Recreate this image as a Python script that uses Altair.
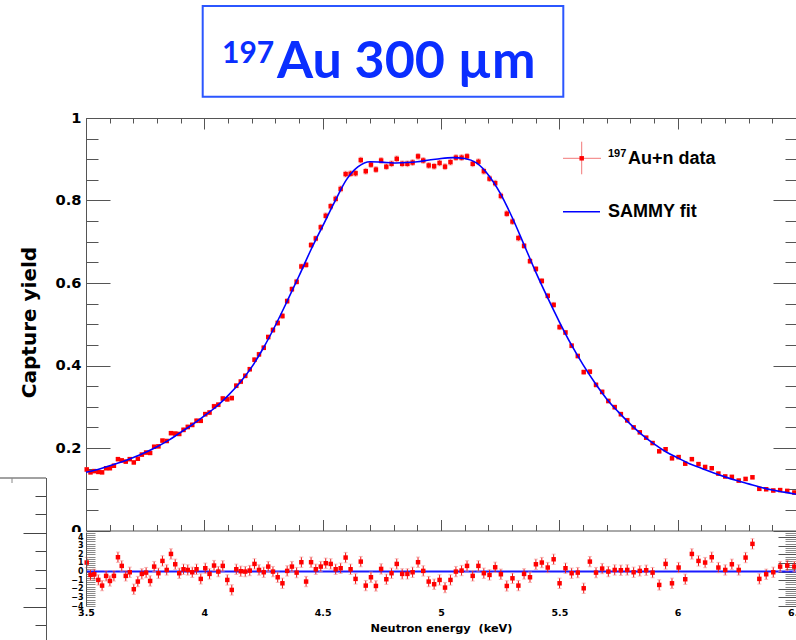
import altair as alt
import pandas as pd

# ---------------- data ----------------
energy = [3.503, 3.519, 3.535, 3.552, 3.568, 3.585, 3.601, 3.618, 3.635, 3.651,
          3.668, 3.685, 3.702, 3.719, 3.736, 3.754, 3.771, 3.788, 3.806, 3.823,
          3.841, 3.859, 3.877, 3.894, 3.912, 3.930, 3.949, 3.967, 3.985, 4.004,
          4.022, 4.041, 4.059, 4.078, 4.097, 4.116, 4.135, 4.154, 4.173, 4.192,
          4.212, 4.231, 4.251, 4.270, 4.290, 4.310, 4.330, 4.350, 4.370, 4.390,
          4.410, 4.430, 4.451, 4.471, 4.492, 4.513, 4.534, 4.555, 4.576, 4.597,
          4.618, 4.639, 4.661, 4.682, 4.704, 4.725, 4.747, 4.769, 4.791, 4.813,
          4.836, 4.858, 4.880, 4.903, 4.925, 4.948, 4.971, 4.994, 5.017, 5.040,
          5.063, 5.087, 5.110, 5.134, 5.158, 5.181, 5.205, 5.229, 5.253, 5.278,
          5.302, 5.327, 5.351, 5.376, 5.401, 5.426, 5.451, 5.476, 5.501, 5.526,
          5.552, 5.578, 5.603, 5.629, 5.655, 5.681, 5.707, 5.734, 5.760, 5.787,
          5.814, 5.840, 5.867, 5.894, 5.922, 5.949, 5.976, 6.004, 6.032, 6.060,
          6.088, 6.116, 6.144, 6.172, 6.201, 6.229, 6.258, 6.287, 6.316, 6.345,
          6.374, 6.404, 6.433, 6.463, 6.493]

capture_yield = [0.148, 0.141, 0.144, 0.142, 0.141, 0.151, 0.151, 0.157, 0.173, 0.170,
                 0.167, 0.173, 0.165, 0.174, 0.184, 0.189, 0.188, 0.203, 0.204, 0.218,
                 0.217, 0.236, 0.235, 0.234, 0.244, 0.251, 0.256, 0.266, 0.266, 0.282,
                 0.286, 0.301, 0.305, 0.320, 0.318, 0.321, 0.351, 0.361, 0.375, 0.391,
                 0.414, 0.427, 0.443, 0.469, 0.486, 0.503, 0.520, 0.556, 0.585, 0.603,
                 0.640, 0.644, 0.692, 0.708, 0.735, 0.763, 0.786, 0.804, 0.828, 0.864,
                 0.865, 0.866, 0.898, 0.871, 0.887, 0.875, 0.897, 0.882, 0.889, 0.901,
                 0.889, 0.889, 0.892, 0.907, 0.897, 0.885, 0.883, 0.891, 0.882, 0.893,
                 0.904, 0.904, 0.907, 0.889, 0.894, 0.871, 0.853, 0.842, 0.811, 0.768,
                 0.749, 0.709, 0.690, 0.653, 0.634, 0.605, 0.569, 0.547, 0.493, 0.480,
                 0.448, 0.423, 0.384, 0.385, 0.353, 0.336, 0.314, 0.299, 0.282, 0.267,
                 0.250, 0.238, 0.225, 0.212, 0.192, 0.197, 0.175, 0.178, 0.162, 0.173,
                 0.161, 0.154, 0.151, 0.138, 0.131, 0.130, 0.121, 0.125, 0.129, 0.101,
                 0.100, 0.097, 0.098, 0.096, 0.092]

yield_err = [
    0.004, 0.004, 0.004, 0.004, 0.004, 0.004, 0.004, 0.004, 0.004, 0.004,
    0.004, 0.004, 0.004, 0.004, 0.004, 0.004, 0.004, 0.004, 0.004, 0.004,
    0.004, 0.004, 0.004, 0.004, 0.005, 0.005, 0.005, 0.005, 0.005, 0.005,
    0.005, 0.005, 0.005, 0.005, 0.005, 0.005, 0.005, 0.005, 0.005, 0.005,
    0.005, 0.005, 0.005, 0.005, 0.006, 0.006, 0.006, 0.006, 0.006, 0.006,
    0.006, 0.006, 0.006, 0.006, 0.007, 0.007, 0.007, 0.007, 0.007, 0.007,
    0.007, 0.007, 0.007, 0.007, 0.007, 0.007, 0.007, 0.007, 0.007, 0.007,
    0.007, 0.007, 0.007, 0.007, 0.007, 0.007, 0.007, 0.007, 0.007, 0.007,
    0.007, 0.007, 0.007, 0.007, 0.007, 0.007, 0.007, 0.007, 0.007, 0.007,
    0.007, 0.007, 0.006, 0.006, 0.006, 0.006, 0.006, 0.006, 0.006, 0.005,
    0.005, 0.005, 0.005, 0.005, 0.005, 0.005, 0.005, 0.005, 0.005, 0.005,
    0.004, 0.004, 0.004, 0.004, 0.004, 0.004, 0.004, 0.004, 0.004, 0.004,
    0.004, 0.004, 0.004, 0.004, 0.004, 0.004, 0.004, 0.004, 0.004, 0.004,
    0.004, 0.004, 0.004, 0.004, 0.004]

residual = [1.05, -0.39, -0.31, -0.97, -1.63, -0.50, -1.09, -0.50, 1.67, 0.66,
            -0.50, -0.08, -2.05, -1.16, -0.27, -0.12, -1.09, 0.58, -0.19, 1.24,
            0.19, 2.05, 0.85, -0.19, 0.27, 0.19, -0.08, 0.27, -0.85, 0.39,
            -0.27, 0.70, 0.00, 0.66, -0.97, -2.13, 0.27, 0.04, 0.00, 0.12,
            0.89, 0.19, -0.08, 0.58, 0.00, -0.66, -1.36, 0.08, 0.58, -0.12,
            1.09, -1.16, 1.09, 0.27, 0.58, 0.97, 0.89, 0.27, 0.39, 1.63,
            0.27, -0.85, 1.16, -1.63, -0.66, -1.67, 0.31, -0.89, -0.19, 0.89,
            -0.27, -0.27, -0.08, 1.09, 0.08, -1.16, -1.47, -0.97, -1.86, -0.97,
            0.00, 0.12, 0.66, -0.50, 0.66, -0.19, -0.39, 0.50, -0.31, -1.67,
            -0.78, -1.63, -0.27, -0.66, 0.85, 1.05, 0.47, 1.43, -1.36, 0.39,
            -0.19, -0.12, -1.94, 1.16, -0.12, 0.35, 0.00, 0.19, 0.16, 0.19,
            -0.08, 0.08, 0.16, -0.12, -1.55, 0.89, -1.36, 0.47, -0.89, 2.05,
            1.24, 1.05, 1.67, 0.47, 0.19, 0.85, 0.19, 1.63, 3.22, -0.85,
            -0.31, -0.08, 0.58, 0.70, 0.58]
RESIDUAL_ERR = 0.6

fit_energy = [3.50, 3.55, 3.60, 3.65, 3.70, 3.75, 3.80, 3.85, 3.90, 3.95,
              4.00, 4.05, 4.10, 4.15, 4.20, 4.25, 4.30, 4.35, 4.40, 4.45,
              4.50, 4.55, 4.60, 4.65, 4.70, 4.75, 4.80, 4.85, 4.90, 4.95,
              5.00, 5.05, 5.10, 5.15, 5.20, 5.25, 5.30, 5.35, 5.40, 5.45,
              5.50, 5.55, 5.60, 5.65, 5.70, 5.75, 5.80, 5.85, 5.90, 5.95,
              6.00, 6.05, 6.10, 6.15, 6.20, 6.25, 6.30, 6.35, 6.40, 6.45, 6.50]
fit_yield = [0.141, 0.148, 0.157, 0.166, 0.177, 0.189, 0.203, 0.219, 0.238, 0.257,
             0.278, 0.300, 0.327, 0.358, 0.396, 0.443, 0.497, 0.556, 0.617, 0.680,
             0.738, 0.796, 0.850, 0.882, 0.894, 0.893, 0.891, 0.892, 0.894, 0.898,
             0.902, 0.904, 0.902, 0.891, 0.862, 0.818, 0.760, 0.694, 0.627, 0.565,
             0.506, 0.451, 0.402, 0.358, 0.319, 0.287, 0.258, 0.232, 0.210, 0.191,
             0.176, 0.162, 0.151, 0.140, 0.130, 0.121, 0.113, 0.105, 0.098, 0.093, 0.088]

# axis tick positions / labels
x_major = [3.5, 4.0, 4.5, 5.0, 5.5, 6.0, 6.5]
x_minor = [3.6, 3.7, 3.8, 3.9, 4.1, 4.2, 4.3, 4.4, 4.6, 4.7, 4.8, 4.9,
           5.1, 5.2, 5.3, 5.4, 5.6, 5.7, 5.8, 5.9, 6.1, 6.2, 6.3, 6.4]
y_major = [0.0, 0.2, 0.4, 0.6, 0.8, 1.0]
y_minor = [0.05, 0.1, 0.15, 0.25, 0.3, 0.35, 0.45, 0.5, 0.55, 0.65, 0.7, 0.75,
           0.85, 0.9, 0.95]
res_labels = [-4, -3, -2, -1, 0, 1, 2, 3, 4]
res_ticks = [-4.0, -3.75, -3.5, -3.25, -3.0, -2.75, -2.5, -2.25, -2.0, -1.75, -1.5,
             -1.25, -1.0, -0.75, -0.5, -0.25, 0.0, 0.25, 0.5, 0.75, 1.0, 1.25, 1.5,
             1.75, 2.0, 2.25, 2.5, 2.75, 3.0, 3.25, 3.5, 3.75, 4.0, 4.25, 4.5]
stub_minor = [1, 2, 4, 5, 6, 8]
stub_major = [3, 7]

# ---------------- layout ----------------
W, H = 710, 488
TICK = "#555555"
BLUE = "#0a2eff"
ROOT_FONT = "DejaVu Sans"

pts = pd.DataFrame({"E": energy, "Y": capture_yield, "dY": yield_err, "R": residual})
pts["rlo"] = pts["R"] - RESIDUAL_ERR
pts["rhi"] = pts["R"] + RESIDUAL_ERR
fit = pd.DataFrame({"E": fit_energy, "F": fit_yield})
one = pd.DataFrame({"k": [0.0]})

XS = alt.Scale(domain=[3.5, 6.5], nice=False, zero=False)
YT = alt.Scale(domain=[0, 1], range=[412.5, 0], nice=False, zero=False)
YR = alt.Scale(domain=[-4, 4.6], range=[488, 414], nice=False, zero=False)
YS = alt.Scale(domain=[0, 8.76], range=[359.5, 521.5], nice=False, zero=False)

X = alt.X("E:Q", scale=XS, axis=None)


def tick_axis(orient, values, size, offset=0, domain=False, color=TICK):
    return alt.Axis(orient=orient, values=values, tickSize=size, offset=offset,
                    labels=False, domain=domain, domainColor=TICK, ticks=True,
                    tickColor=color, tickWidth=1, grid=False, title=None)


def y_axis_layer(field, scale, axis):
    return alt.Chart(pts).mark_point(opacity=0).encode(
        x=X, y=alt.Y(field, scale=scale, axis=axis))


def x_axis_layer(axis):
    return alt.Chart(pts).mark_point(opacity=0).encode(
        x=alt.X("E:Q", scale=XS, axis=axis))


layers = []

# ----- top panel frame ticks -----
layers.append(y_axis_layer("Y:Q", YT, tick_axis("right", y_major, 24, offset=-W)))
layers.append(y_axis_layer("Y:Q", YT, tick_axis("right", y_minor, 12, offset=-W)))
layers.append(y_axis_layer("Y:Q", YT, tick_axis("left", y_major, 23, offset=-W)))
layers.append(y_axis_layer("Y:Q", YT, tick_axis("left", y_minor, 11, offset=-W)))
layers.append(x_axis_layer(tick_axis("bottom", x_major, 11, offset=-H, domain=True)))
layers.append(x_axis_layer(tick_axis("bottom", x_minor, 5, offset=-H)))
layers.append(x_axis_layer(tick_axis("top", x_major, 11, offset=-412.5, domain=True)))
layers.append(x_axis_layer(tick_axis("top", x_minor, 6, offset=-412.5)))

# top panel labelled y axis
layers.append(y_axis_layer("Y:Q", YT, alt.Axis(
    orient="left", values=y_major, format="~g", ticks=False, tickSize=0,
    labelPadding=5, labelFont=ROOT_FONT, labelFontWeight="bold", labelFontSize=14.7,
    labelColor="black", domain=True, domainColor=TICK, grid=False,
    title="Capture yield", titleFont=ROOT_FONT, titleFontWeight="bold",
    titleFontSize=20, titleColor="black", titleAngle=270, titleX=-57, titleY=204,
    titleAlign="center", titleBaseline="middle", zindex=0)))

# ----- residual panel axes -----
layers.append(y_axis_layer("R:Q", YR, tick_axis("right", res_ticks, 9, offset=-W, color="#8a8a8a")))
layers.append(y_axis_layer("R:Q", YR, tick_axis("left", res_ticks, 11, offset=-W, color="#8a8a8a")))
layers.append(y_axis_layer("R:Q", YR, tick_axis("left", res_labels, 18, offset=-W)))

# mask hiding the lower part of the top panel's "0" label (residual pad background)
layers.append(alt.Chart(one).mark_rect(color="white").encode(
    x=alt.value(-34), x2=alt.value(-2), y=alt.value(414), y2=alt.value(425)))

layers.append(y_axis_layer("R:Q", YR, alt.Axis(
    orient="left", values=res_labels, format="d", ticks=False, tickSize=0,
    labelPadding=3, labelFont=ROOT_FONT, labelFontWeight="bold", labelFontSize=8,
    labelColor="black", domain=True, domainColor=TICK, grid=False, title=None,
    zindex=1)))
layers.append(x_axis_layer(alt.Axis(
    orient="bottom", values=x_major, format="~g", ticks=False, tickSize=0,
    labelPadding=1, labelFont=ROOT_FONT, labelFontWeight="bold", labelFontSize=9.5,
    labelColor="black", labelFlush=False, domain=False, grid=False,
    title="Neutron energy \u00a0(keV)", titleFont=ROOT_FONT, titleFontWeight="bold",
    titleFontSize=11.3, titleColor="black", titleX=355, titleY=25,
    titleAlign="center", titleBaseline="alphabetic", zindex=1)))

# ----- left stub of a neighbouring frame -----
stub_one = pd.DataFrame({"s": [0.0]})
layers.append(alt.Chart(stub_one).mark_point(opacity=0).encode(
    x=alt.value(0), y=alt.Y("s:Q", scale=YS,
                            axis=tick_axis("left", stub_minor, 11, offset=40, domain=True, color="#444"))))
layers.append(alt.Chart(stub_one).mark_point(opacity=0).encode(
    x=alt.value(0), y=alt.Y("s:Q", scale=YS,
                            axis=tick_axis("left", stub_major, 23, offset=40, color="#444"))))
layers.append(alt.Chart(one).mark_rule(color="#444", strokeWidth=1).encode(
    x=alt.value(-86), x2=alt.value(-40), y=alt.value(360)))
layers.append(alt.Chart(one).mark_rule(color="#888", strokeWidth=1).encode(
    x=alt.value(-74), y=alt.value(360), y2=alt.value(365)))

# ----- top panel data -----
top_err = alt.Chart(pts).transform_calculate(
    lo="datum.Y - datum.dY", hi="datum.Y + datum.dY")
layers.append(top_err.mark_rule(color="#ee1111", strokeWidth=1).encode(
    x=X, y=alt.Y("lo:Q", scale=YT, axis=None), y2="hi:Q"))
layers.append(top_err.transform_fold(["lo", "hi"], as_=["end", "v"]).mark_tick(
    orient="horizontal", size=4, thickness=1, color="#f4a0a0").encode(
    x=X, y=alt.Y("v:Q", scale=YT, axis=None)))
layers.append(alt.Chart(pts).mark_square(size=20, color="#ff0000", opacity=1).encode(
    x=X, y=alt.Y("Y:Q", scale=YT, axis=None)))
layers.append(alt.Chart(fit).mark_line(color="#0000ff", strokeWidth=1.6,
                                       interpolate="monotone").encode(
    x=X, y=alt.Y("F:Q", scale=YT, axis=None)))

# ----- residual panel data -----
zero = pd.DataFrame({"z": [0.0]})
layers.append(alt.Chart(zero).mark_rule(color="#1a1aff", strokeWidth=2).encode(
    y=alt.Y("z:Q", scale=YR, axis=None), x=alt.value(0), x2=alt.value(W)))
layers.append(alt.Chart(pts).mark_rule(color="#ee1111", strokeWidth=1).encode(
    x=X, y=alt.Y("rlo:Q", scale=YR, axis=None), y2="rhi:Q"))
layers.append(alt.Chart(pts).transform_fold(["rlo", "rhi"], as_=["end", "v"]).mark_tick(
    orient="horizontal", size=4, thickness=1, color="#f4a0a0").encode(
    x=X, y=alt.Y("v:Q", scale=YR, axis=None)))
layers.append(alt.Chart(pts).mark_square(size=20, color="#ff0000", opacity=1).encode(
    x=X, y=alt.Y("R:Q", scale=YR, axis=None)))

# ----- legend -----
layers.append(alt.Chart(one).mark_rule(color="#f27878", strokeWidth=1).encode(
    x=alt.value(477), x2=alt.value(515), y=alt.value(40.3)))
layers.append(alt.Chart(one).mark_rule(color="#f27878", strokeWidth=1).encode(
    x=alt.value(495.7), y=alt.value(23.7), y2=alt.value(56.3)))
layers.append(alt.Chart(one).mark_square(size=20, color="#ff0000", opacity=1).encode(
    x=alt.value(495.7), y=alt.value(40.3)))
layers.append(alt.Chart(one).mark_rule(color="#0000ff", strokeWidth=1.6).encode(
    x=alt.value(477), x2=alt.value(514), y=alt.value(93.7)))
legend_font = dict(font="Liberation Sans", fontWeight="bold", color="black",
                   align="left", baseline="alphabetic")
layers.append(alt.Chart(one).mark_text(text="197", fontSize=11, **legend_font).encode(
    x=alt.value(522), y=alt.value(39)))
layers.append(alt.Chart(one).mark_text(text="Au+n data", fontSize=18, **legend_font).encode(
    x=alt.value(542), y=alt.value(46.3)))
layers.append(alt.Chart(one).mark_text(text="SAMMY fit", fontSize=18, **legend_font).encode(
    x=alt.value(522), y=alt.value(99.3)))

# ----- boxed title -----
layers.append(alt.Chart(one).mark_rect(fill="white", stroke="#2b56ff", strokeWidth=2).encode(
    x=alt.value(116.7), x2=alt.value(477.3), y=alt.value(-112), y2=alt.value(-21.3)))
title_font = dict(font="Lato", fontWeight="bold", color=BLUE, align="left",
                  baseline="alphabetic")
layers.append(alt.Chart(one).mark_text(text="197", fontSize=30, **title_font).encode(
    x=alt.value(136), y=alt.value(-55)))
layers.append(alt.Chart(one).mark_text(text="Au 300 µm", fontSize=52, **title_font).encode(
    x=alt.value(191), y=alt.value(-40)))

chart = alt.layer(*layers).resolve_scale(
    y="independent"
).resolve_axis(
    x="independent", y="independent"
).properties(
    width=W, height=H,
    padding={"left": 86, "top": 118, "right": 0, "bottom": 34},
    autosize=alt.AutoSizeParams(type="none"),
    background="white",
).configure_view(stroke=None)

chart.save("out.html", embed_options={"renderer": "svg", "actions": False})
